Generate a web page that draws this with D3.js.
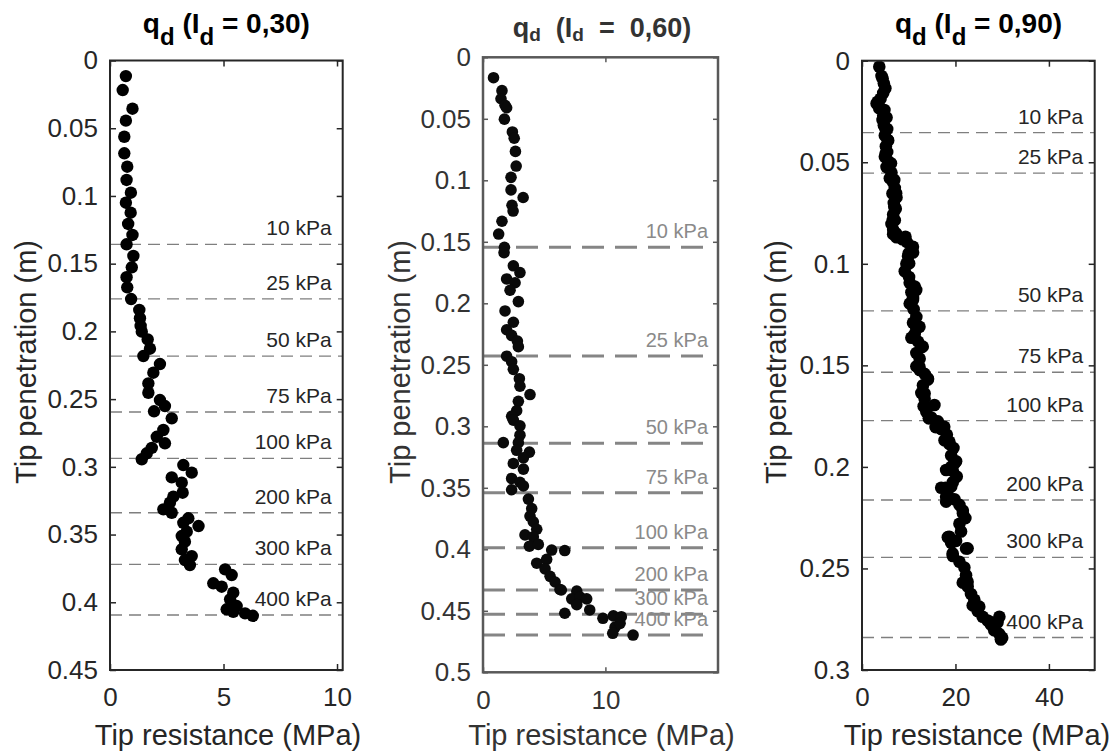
<!DOCTYPE html>
<html><head><meta charset="utf-8">
<script src="https://cdn.jsdelivr.net/npm/d3@7"></script>
<style>
html,body{margin:0;padding:0;background:#fff;}
svg{display:block;font-family:"Liberation Sans",Arial,Helvetica,sans-serif;}
</style></head><body>
<svg id="chart" width="1119" height="753"></svg>
<script>
// ---------------- DATA ----------------
const pressureLabels = ["10 kPa","25 kPa","50 kPa","75 kPa","100 kPa","200 kPa","300 kPa","400 kPa"];

// Panel 1: Id = 0,30
const qc1 = [0.70,0.56,0.99,0.70,0.63,0.63,0.76,0.73,0.92,0.70,0.91,0.80,0.99,0.73,1.03,0.96,0.73,0.76,0.93,1.29,1.32,1.35,1.40,1.66,1.76,1.47,2.20,1.91,1.69,1.69,2.20,2.42,1.94,2.72,2.35,2.06,2.42,1.84,1.62,1.40,3.23,3.60,2.72,3.16,3.20,2.79,2.64,2.35,2.72,3.45,3.23,3.90,3.38,3.16,3.30,3.16,3.60,3.30,3.52,5.07,5.36,4.55,4.92,5.43,5.29,5.58,5.14,5.43,5.95,6.29];
const depth1 = [0.0115,0.0218,0.0356,0.0444,0.0563,0.0685,0.0784,0.0882,0.0976,0.1050,0.1124,0.1207,0.1288,0.1357,0.1443,0.1527,0.1600,0.1675,0.1761,0.1842,0.1903,0.1960,0.2002,0.2059,0.2128,0.2182,0.2241,0.2305,0.2384,0.2453,0.2507,0.2551,0.2590,0.2642,0.2728,0.2778,0.2826,0.2860,0.2900,0.2944,0.2987,0.3043,0.3078,0.3117,0.3191,0.3220,0.3265,0.3314,0.3339,0.3380,0.3413,0.3437,0.3479,0.3511,0.3553,0.3609,0.3659,0.3688,0.3725,0.3757,0.3799,0.3860,0.3885,0.3929,0.3978,0.4028,0.4052,0.4070,0.4082,0.4100];
const pDepth1 = [0.1357,0.1760,0.2182,0.2595,0.2937,0.3339,0.3720,0.4094];

// Panel 2: Id = 0,60
const qc2 = [0.86,1.55,1.47,1.80,1.93,1.75,2.40,2.55,2.65,2.71,2.29,2.29,3.28,2.37,2.46,1.55,1.28,1.75,1.72,2.48,3.02,1.93,2.62,2.21,2.89,1.80,2.48,1.93,2.34,2.81,2.89,1.93,2.34,2.48,2.97,3.02,3.84,2.89,2.75,2.34,2.48,3.02,3.02,1.66,2.89,2.75,3.79,3.30,2.48,3.30,2.34,3.02,3.30,2.34,3.71,3.98,3.84,4.11,4.39,3.43,4.11,3.79,4.52,5.61,6.68,4.39,5.20,5.07,5.48,5.89,6.29,6.40,7.66,7.25,7.93,8.47,6.68,7.66,8.72,9.80,10.65,11.30,10.79,11.20,10.60,12.26];
const depth2 = [0.0166,0.0271,0.0337,0.0390,0.0410,0.0503,0.0607,0.0658,0.0765,0.0884,0.0976,0.1078,0.1140,0.1203,0.1250,0.1333,0.1437,0.1545,0.1588,0.1695,0.1750,0.1802,0.1833,0.1894,0.1986,0.2062,0.2154,0.2215,0.2261,0.2307,0.2353,0.2430,0.2475,0.2537,0.2613,0.2674,0.2742,0.2797,0.2873,0.2919,0.2950,0.2996,0.3072,0.3133,0.3133,0.3195,0.3210,0.3256,0.3302,0.3348,0.3424,0.3455,0.3485,0.3516,0.3592,0.3669,0.3730,0.3776,0.3837,0.3883,0.3898,0.3975,0.3960,0.4006,0.4010,0.4113,0.4082,0.4159,0.4220,0.4266,0.4327,0.4331,0.4340,0.4403,0.4388,0.4403,0.4520,0.4450,0.4493,0.4561,0.4541,0.4548,0.4633,0.4602,0.4683,0.4697];
const pDepth2 = [0.1545,0.2428,0.3138,0.3540,0.3987,0.4330,0.4528,0.4697];

// Panel 3: Id = 0,90
const qc3 = [3.70,4.18,4.40,4.68,5.00,4.54,3.97,3.36,3.12,3.69,4.80,4.54,5.25,4.40,4.68,5.00,5.39,4.89,5.50,5.60,5.11,5.39,5.10,4.89,5.60,6.20,5.25,6.31,5.96,6.90,6.67,7.02,6.52,7.30,7.38,6.81,6.90,7.23,6.67,6.60,7.02,6.31,6.67,7.30,6.67,9.30,7.38,8.65,9.57,10.64,10.90,10.92,10.00,9.86,9.50,10.10,9.15,10.07,10.21,11.28,11.60,10.57,10.92,10.90,10.21,11.06,11.63,10.92,12.30,11.63,11.28,10.57,12.00,12.70,13.00,11.63,12.34,11.63,12.30,12.34,13.40,14.11,14.10,13.05,12.70,13.40,13.40,13.19,15.50,13.76,14.82,14.30,16.24,15.74,16.95,17.60,18.16,17.66,18.70,18.72,19.57,19.08,20.14,19.80,19.08,18.00,19.43,20.28,19.43,19.10,17.87,16.95,18.00,18.37,18.00,19.79,20.85,21.56,21.60,22.13,20.85,21.20,18.37,18.70,19.08,20.14,22.27,22.60,19.43,19.40,20.85,21.91,22.27,21.56,22.60,22.62,23.33,24.04,23.69,25.10,24.75,25.82,29.40,26.88,27.59,27.30,29.00,28.30,29.36,30.00,29.72];
const depth3 = [0.0030,0.0075,0.0087,0.0112,0.0136,0.0159,0.0187,0.0202,0.0211,0.0234,0.0243,0.0271,0.0280,0.0292,0.0318,0.0333,0.0336,0.0368,0.0390,0.0393,0.0421,0.0449,0.0456,0.0473,0.0495,0.0505,0.0523,0.0551,0.0579,0.0587,0.0598,0.0626,0.0654,0.0653,0.0673,0.0701,0.0719,0.0729,0.0757,0.0784,0.0785,0.0804,0.0832,0.0850,0.0854,0.0867,0.0869,0.0879,0.0892,0.0916,0.0916,0.0944,0.0948,0.0963,0.1000,0.0998,0.1037,0.1065,0.1093,0.1112,0.1129,0.1140,0.1168,0.1178,0.1196,0.1224,0.1262,0.1290,0.1310,0.1318,0.1346,0.1364,0.1383,0.1411,0.1408,0.1439,0.1467,0.1505,0.1507,0.1523,0.1542,0.1570,0.1564,0.1598,0.1636,0.1638,0.1664,0.1701,0.1695,0.1729,0.1757,0.1761,0.1776,0.1804,0.1813,0.1802,0.1841,0.1869,0.1876,0.1888,0.1907,0.1944,0.1972,0.1982,0.2000,0.2015,0.2019,0.2047,0.2075,0.2097,0.2103,0.2103,0.2147,0.2140,0.2171,0.2159,0.2187,0.2215,0.2229,0.2252,0.2280,0.2318,0.2346,0.2344,0.2374,0.2364,0.2402,0.2401,0.2439,0.2426,0.2467,0.2495,0.2533,0.2570,0.2565,0.2589,0.2626,0.2654,0.2682,0.2688,0.2710,0.2738,0.2738,0.2757,0.2776,0.2762,0.2766,0.2804,0.2822,0.2841,0.2850];
const pDepth3 = [0.0354,0.0554,0.1232,0.1534,0.1772,0.2163,0.2445,0.2840];

// Axis ticks
const xTicks1 = [0,5,10], yTicks1 = [0,0.05,0.1,0.15,0.2,0.25,0.3,0.35,0.4,0.45];
const xTicks2 = [0,10],   yTicks2 = [0,0.05,0.1,0.15,0.2,0.25,0.3,0.35,0.4,0.45,0.5];
const xTicks3 = [0,20,40], yTicks3 = [0,0.05,0.1,0.15,0.2,0.25,0.3];

// ---------------- DRAW ----------------
const svg = d3.select("#chart");
const fmt = d => String(+d.toFixed(2));

const panels = [
  {qc:qc1, z:depth1, pz:pDepth1, xTicks:xTicks1, yTicks:yTicks1,
   left:110, right:342.7, top:60.5, bottom:670, xDom:[0,10.25], yDom:[0,0.45],
   frame:"#262626", frameW:2, tick:6, text:"#262626", r:6.2,
   dash:"12,7", dashW:1.3, dashColor:"#7f7f7f", lineEnd:null, labelX:331.7, labelColor:"#262626", labelSize:21,
   ylabX:36, xlabX:228},
  {qc:qc2, z:depth2, pz:pDepth2, xTicks:xTicks2, yTicks:yTicks2,
   left:483, right:718, top:57.3, bottom:672.3, xDom:[0,19.2], yDom:[0,0.5],
   frame:"#595959", frameW:2.5, tick:5, text:"#333333", r:5.8,
   dash:"22,11", dashW:3, dashColor:"#858585", lineEnd:705, labelX:708, labelColor:"#8a8a8a", labelSize:20,
   ylabX:410, xlabX:601.5},
  {qc:qc3, z:depth3, pz:pDepth3, xTicks:xTicks3, yTicks:yTicks3,
   left:862, right:1094.7, top:60.7, bottom:670, xDom:[0,49.8], yDom:[0,0.3],
   frame:"#262626", frameW:2, tick:6, text:"#262626", r:6.3,
   dash:"12,7", dashW:1.3, dashColor:"#7f7f7f", lineEnd:null, labelX:1083.3, labelColor:"#262626", labelSize:21,
   ylabX:786, xlabX:977}
];

panels.forEach((p, i) => {
  const g = svg.append("g");
  const x = d3.scaleLinear().domain(p.xDom).range([p.left, p.right]);
  const y = d3.scaleLinear().domain(p.yDom).range([p.top, p.bottom]);

  // pressure dashed lines
  g.append("g").selectAll("line").data(p.pz).join("line")
    .attr("x1", p.left).attr("x2", p.lineEnd ?? p.right)
    .attr("y1", d => y(d)).attr("y2", d => y(d))
    .attr("stroke", p.dashColor).attr("stroke-width", p.dashW)
    .attr("stroke-dasharray", p.dash);

  // data points
  const pts = p.qc.map((v, k) => [v, p.z[k]]);
  g.append("g").selectAll("circle").data(pts).join("circle")
    .attr("cx", d => x(d[0])).attr("cy", d => y(d[1])).attr("r", p.r)
    .attr("fill", i === 1 ? "#0a0a0a" : "#000");

  // pressure labels
  g.append("g").selectAll("text").data(p.pz).join("text")
    .attr("x", p.labelX).attr("y", d => y(d) - 9)
    .attr("text-anchor", "end").attr("font-size", p.labelSize)
    .attr("fill", p.labelColor)
    .text((d, k) => pressureLabels[k]);

  // axes
  const styleAxis = a => {
    a.select(".domain").remove();
    a.selectAll(".tick line").attr("stroke", p.frame).attr("stroke-width", 1.5);
    a.selectAll(".tick text").attr("font-size", 26).attr("fill", p.text)
      .attr("font-family", "Liberation Sans, Arial, sans-serif");
  };
  g.append("g").attr("transform", `translate(${p.left},0)`)
    .call(d3.axisLeft(y).tickValues(p.yTicks).tickSize(-p.tick).tickPadding(12).tickFormat(fmt))
    .call(styleAxis);
  g.append("g").attr("transform", `translate(${p.right},0)`)
    .call(d3.axisRight(y).tickValues(p.yTicks).tickSize(-p.tick).tickFormat(() => ""))
    .call(styleAxis);
  g.append("g").attr("transform", `translate(0,${p.bottom})`)
    .call(d3.axisBottom(x).tickValues(p.xTicks).tickSize(-p.tick).tickPadding(18).tickFormat(fmt))
    .call(styleAxis);
  g.append("g").attr("transform", `translate(0,${p.top})`)
    .call(d3.axisTop(x).tickValues(p.xTicks).tickSize(-p.tick).tickFormat(() => ""))
    .call(styleAxis);

  // frame
  g.append("rect").attr("x", p.left).attr("y", p.top)
    .attr("width", p.right - p.left).attr("height", p.bottom - p.top)
    .attr("fill", "none").attr("stroke", p.frame).attr("stroke-width", p.frameW);

  // axis titles
  g.append("text").attr("transform", `translate(${p.ylabX},362) rotate(-90)`)
    .attr("text-anchor", "middle").attr("font-size", 29).attr("fill", p.text)
    .text("Tip penetration (m)");
  g.append("text").attr("x", p.xlabX).attr("y", 745)
    .attr("text-anchor", "middle").attr("font-size", 29).attr("fill", p.text)
    .text("Tip resistance (MPa)");
});

// titles
function titleA(cx, val) {
  const t = svg.append("text").attr("x", cx).attr("y", 33).attr("text-anchor", "middle")
    .attr("font-size", 28).attr("font-weight", "bold").attr("fill", "#000");
  t.append("tspan").text("q");
  t.append("tspan").attr("dy", 12).attr("font-size", 24).text("d");
  t.append("tspan").attr("dy", -12).text(" (I");
  t.append("tspan").attr("dy", 12).attr("font-size", 24).text("d");
  t.append("tspan").attr("dy", -12).text(" = " + val + ")");
}
titleA(226.4, "0,30");
titleA(978.5, "0,90");

{
  const t = svg.append("text").attr("x", 602).attr("y", 37).attr("text-anchor", "middle")
    .attr("font-size", 27).attr("font-weight", "bold").attr("fill", "#333")
    .attr("xml:space", "preserve").style("white-space", "pre");
  t.append("tspan").text("q");
  t.append("tspan").attr("dy", 4).attr("font-size", 19).text("d");
  t.append("tspan").attr("dy", -4).text("  (I");
  t.append("tspan").attr("dy", 4).attr("font-size", 19).text("d");
  t.append("tspan").attr("dy", -4).text("  =  0,60)");
}
</script>
</body></html>
